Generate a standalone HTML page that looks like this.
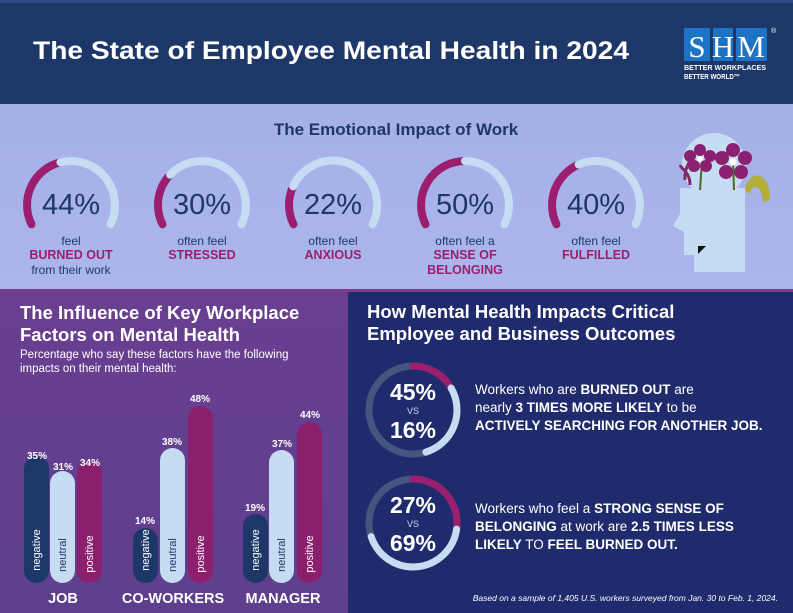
<!DOCTYPE html>
<html><head><meta charset="utf-8"><style>
html,body{margin:0;padding:0;width:793px;height:613px;overflow:hidden;background:#fff}
svg{display:block}
text{font-family:"Liberation Sans",sans-serif}
</style></head><body>
<svg width="793" height="613" viewBox="0 0 793 613" xmlns="http://www.w3.org/2000/svg">
<defs>
<linearGradient id="pg" x1="0" y1="0" x2="0" y2="1"><stop offset="0" stop-color="#6a3f90"/><stop offset="1" stop-color="#5e3f8e"/></linearGradient>
<linearGradient id="tg" x1="0" y1="0" x2="0" y2="1"><stop offset="0" stop-color="#a4b0e8"/><stop offset="1" stop-color="#aab6ec"/></linearGradient>
</defs>
<!-- header -->
<rect x="0" y="0" width="793" height="104" fill="#1d3868"/>
<rect x="0" y="0" width="793" height="3" fill="#2c4a80"/>
<text x="331" y="59" fill="#fff" font-size="25" font-weight="bold" text-anchor="middle" textLength="596" lengthAdjust="spacingAndGlyphs">The State of Employee Mental Health in 2024</text>
<rect x="684" y="28" width="26" height="33" fill="#1e74c4"/>
<rect x="713" y="28" width="20" height="33" fill="#1e74c4"/>
<rect x="736" y="28" width="31" height="33" fill="#1e74c4"/>
<text x="697" y="57" fill="#fff" font-size="31" style="font-family:'Liberation Serif',serif" text-anchor="middle">S</text>
<text x="723" y="57" fill="#fff" font-size="31" style="font-family:'Liberation Serif',serif" text-anchor="middle">H</text>
<text x="751" y="57" fill="#fff" font-size="31" style="font-family:'Liberation Serif',serif" text-anchor="middle">M</text>
<text x="771" y="33" fill="#fff" font-size="7">®</text>
<text x="684" y="70" fill="#fff" font-size="7.5" font-weight="bold" textLength="82" lengthAdjust="spacingAndGlyphs">BETTER WORKPLACES</text>
<text x="684" y="79" fill="#fff" font-size="7.5" font-weight="bold" textLength="56" lengthAdjust="spacingAndGlyphs">BETTER WORLD™</text>

<!-- top band -->
<rect x="0" y="104" width="793" height="186" fill="url(#tg)"/>
<text x="396" y="135" fill="#1d3868" font-size="17" font-weight="bold" text-anchor="middle">The Emotional Impact of Work</text>

<g fill="none" stroke-width="8" stroke-linecap="round">
<path d="M31.5 224.3 A44 44 0 0 1 60.4 162.3" stroke="#9b1f6e"/>
<path d="M60.4 162.3 A44 44 0 0 1 110.5 224.3" stroke="#c5dcf3"/>
<path d="M162.5 224.3 A44 44 0 0 1 170.1 174.7" stroke="#9b1f6e"/>
<path d="M170.1 174.7 A44 44 0 0 1 241.5 224.3" stroke="#c5dcf3"/>
<path d="M293.5 224.3 A44 44 0 0 1 293.1 186.4" stroke="#9b1f6e"/>
<path d="M293.1 186.4 A44 44 0 1 1 372.5 224.3" stroke="#c5dcf3"/>
<path d="M425.5 224.3 A44 44 0 0 1 465 161" stroke="#9b1f6e"/>
<path d="M465 161 A44 44 0 0 1 504.5 224.3" stroke="#c5dcf3"/>
<path d="M556.5 224.3 A44 44 0 0 1 578.7 164.6" stroke="#9b1f6e"/>
<path d="M578.7 164.6 A44 44 0 0 1 635.5 224.3" stroke="#c5dcf3"/>
</g>
<g fill="#1d3868" font-size="29" text-anchor="middle">
<text x="71" y="214">44%</text><text x="202" y="214">30%</text><text x="333" y="214">22%</text><text x="465" y="214">50%</text><text x="596" y="214">40%</text>
</g>
<g fill="#1d3868" font-size="12" text-anchor="middle">
<text x="71" y="245">feel</text><text x="71" y="274">from their work</text>
<text x="202" y="245">often feel</text><text x="333" y="245">often feel</text>
<text x="465" y="245">often feel a</text><text x="596" y="245">often feel</text>
</g>
<g fill="#9b1f6e" font-size="12.5" font-weight="bold" text-anchor="middle">
<text x="71" y="259">BURNED OUT</text><text x="202" y="259">STRESSED</text><text x="333" y="259">ANXIOUS</text>
<text x="465" y="259">SENSE OF</text><text x="465" y="274">BELONGING</text><text x="596" y="259">FULFILLED</text>
</g>
<!-- head -->
<circle cx="714" cy="165" r="32" fill="#c5dcf3"/>
<path d="M680 188 L745 188 L745 272 L694 272 L694 255 L684 255 L684 232 L673 226 L680 214 Z" fill="#c5dcf3"/>
<path d="M698 246 L706 246 L698 254 Z" fill="#111"/>
<path d="M700 190 L702 160 M734 190 L733 162" stroke="#4e6a2a" stroke-width="2" fill="none"/>
<path d="M745 190 C748 170 770 168 770 200 L763 202 C762 185 752 183 750 194 Z" fill="#b3ae3a"/>
<path d="M685 180 C684 168 690 160 695 155 M690 185 C690 172 682 170 680 165" stroke="#7b2b6b" stroke-width="3" fill="none"/>
<g fill="#8b2070">
<circle cx="700" cy="150" r="6"/><circle cx="710" cy="156" r="6"/><circle cx="706" cy="166" r="6"/><circle cx="694" cy="166" r="6"/><circle cx="690" cy="156" r="6"/>
<circle cx="733" cy="150" r="7"/><circle cx="745" cy="158" r="7"/><circle cx="741" cy="172" r="7"/><circle cx="726" cy="172" r="7"/><circle cx="722" cy="158" r="7"/>
</g>
<circle cx="700" cy="159" r="3" fill="#fff"/><circle cx="733" cy="162" r="3.5" fill="#fff"/>

<!-- bottom left -->
<rect x="0" y="290" width="348" height="323" fill="url(#pg)"/>
<rect x="0" y="289" width="793" height="3" fill="#7a3f8c"/>
<text x="20" y="319" fill="#fff" font-size="18.5" font-weight="bold">The Influence of Key Workplace</text>
<text x="20" y="341" fill="#fff" font-size="18.5" font-weight="bold">Factors on Mental Health</text>
<text x="20" y="358" fill="#fff" font-size="11.5">Percentage who say these factors have the following</text>
<text x="20" y="372" fill="#fff" font-size="11.5">impacts on their mental health:</text>
<g>
<rect x="24" y="456" width="25" height="127" rx="12.5" fill="#1d3868"/>
<rect x="50" y="471" width="25" height="112" rx="12.5" fill="#c5dcf3"/>
<rect x="77" y="461" width="25" height="122" rx="12.5" fill="#8b1f6e"/>
<rect x="133" y="528" width="25" height="55" rx="12.5" fill="#1d3868"/>
<rect x="160" y="448" width="25" height="135" rx="12.5" fill="#c5dcf3"/>
<rect x="188" y="406" width="25" height="177" rx="12.5" fill="#8b1f6e"/>
<rect x="243" y="514" width="25" height="69" rx="12.5" fill="#1d3868"/>
<rect x="269" y="450" width="25" height="133" rx="12.5" fill="#c5dcf3"/>
<rect x="297" y="422" width="25" height="161" rx="12.5" fill="#8b1f6e"/>
</g>
<g fill="#fff" font-size="10" font-weight="bold" text-anchor="middle">
<text x="37" y="459">35%</text><text x="63" y="470">31%</text><text x="90" y="466">34%</text>
<text x="145" y="524">14%</text><text x="172" y="445">38%</text><text x="200" y="402">48%</text>
<text x="255" y="511">19%</text><text x="282" y="447">37%</text><text x="310" y="418">44%</text>
</g>
<g font-size="11" text-anchor="middle">
<text transform="translate(40,550) rotate(-90)" fill="#fff">negative</text>
<text transform="translate(66,555) rotate(-90)" fill="#1d3868">neutral</text>
<text transform="translate(93,554) rotate(-90)" fill="#fff">positive</text>
<text transform="translate(149,550) rotate(-90)" fill="#fff">negative</text>
<text transform="translate(176,555) rotate(-90)" fill="#1d3868">neutral</text>
<text transform="translate(204,554) rotate(-90)" fill="#fff">positive</text>
<text transform="translate(259,550) rotate(-90)" fill="#fff">negative</text>
<text transform="translate(285,555) rotate(-90)" fill="#1d3868">neutral</text>
<text transform="translate(313,554) rotate(-90)" fill="#fff">positive</text>
</g>
<g fill="#fff" font-size="14.5" font-weight="bold" text-anchor="middle">
<text x="63" y="603">JOB</text><text x="173" y="603">CO-WORKERS</text><text x="283" y="603">MANAGER</text>
</g>

<!-- bottom right -->
<rect x="348" y="292" width="445" height="321" fill="#1f2b6c"/>
<text x="367" y="318" fill="#fff" font-size="18.5" font-weight="bold">How Mental Health Impacts Critical</text>
<text x="367" y="340" fill="#fff" font-size="18.5" font-weight="bold">Employee and Business Outcomes</text>
<g fill="none" stroke-width="7" stroke-linecap="round">
<circle cx="413" cy="410" r="44" stroke="#46557f"/>
<path d="M413 366 A44 44 0 0 1 451.1 388" stroke="#9b1f6e"/>
<path d="M451.1 388 A44 44 0 0 1 425.9 452.1" stroke="#c5dcf3"/>
<circle cx="413" cy="523" r="44" stroke="#46557f"/>
<path d="M413 479 A44 44 0 0 1 456.6 529.1" stroke="#9b1f6e"/>
<path d="M456.6 529.1 A44 44 0 0 1 371.2 536.6" stroke="#c5dcf3"/>
</g>
<g fill="#fff" text-anchor="middle">
<text x="413" y="400" font-size="23" font-weight="bold">45%</text>
<text x="413" y="414" font-size="9" fill="#c5dcf3">VS</text>
<text x="413" y="438" font-size="23" font-weight="bold">16%</text>
<text x="413" y="513" font-size="23" font-weight="bold">27%</text>
<text x="413" y="527" font-size="9" fill="#c5dcf3">VS</text>
<text x="413" y="551" font-size="23" font-weight="bold">69%</text>
</g>
<g fill="#fff" font-size="13.5">
<text x="475" y="394">Workers who are <tspan font-weight="bold">BURNED OUT</tspan> are</text>
<text x="475" y="412">nearly <tspan font-weight="bold">3 TIMES MORE LIKELY</tspan> to be</text>
<text x="475" y="430" font-weight="bold">ACTIVELY SEARCHING FOR ANOTHER JOB.</text>
<text x="475" y="513">Workers who feel a <tspan font-weight="bold">STRONG SENSE OF</tspan></text>
<text x="475" y="531"><tspan font-weight="bold">BELONGING</tspan> at work are <tspan font-weight="bold">2.5 TIMES LESS</tspan></text>
<text x="475" y="549"><tspan font-weight="bold">LIKELY</tspan> TO <tspan font-weight="bold">FEEL BURNED OUT.</tspan></text>
</g>
<text x="778" y="601" fill="#fff" font-size="8.5" font-style="italic" text-anchor="end">Based on a sample of 1,405 U.S. workers surveyed from Jan. 30 to Feb. 1, 2024.</text>
</svg>
</body></html>
